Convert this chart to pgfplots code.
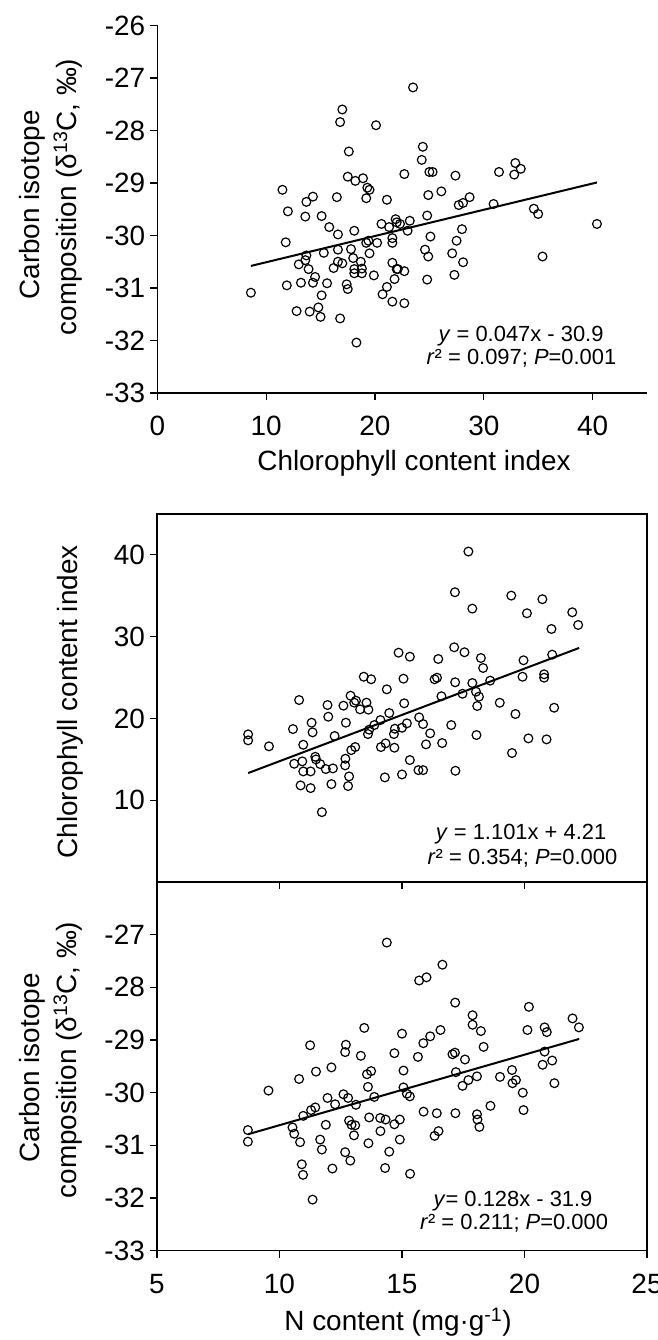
\documentclass[border=0pt]{standalone}
\usepackage{fontspec}
\setmainfont{Liberation Sans}
\usepackage{pgfplots}
\pgfplotsset{compat=1.18}

\pgfplotsset{
  myax/.style={
    scale only axis,
    clip=false,
    font=\fontsize{28}{33}\selectfont,
    tick label style={font=\fontsize{28}{33}\selectfont, inner sep=0pt},
    major tick length=7bp,
    tick style={line width=1.2bp, black},
    axis line style={line width=1.3bp, black},
  },
  pts/.style={only marks, mark=o, mark size=4.4bp, mark options={line width=1.2bp, black, fill=white}},
  reg/.style={black, line width=2bp, no marks},
}

\begin{document}
\begin{tikzpicture}
\useasboundingbox (0bp,0bp) rectangle (658bp,1340bp);

% ---------------- Panel 1 ----------------
\begin{axis}[myax, at={(157.3bp,947bp)}, anchor=south west, width=489.7bp, height=367.5bp,
  xmin=0, xmax=45, ymin=-33, ymax=-26,
  axis x line*=bottom, axis y line*=left,
  axis line style={-, line width=1.3bp, black},
  tick align=outside,
  xtick={0,10,20,30,40}, xticklabels={0,10,20,30,40},
  ytick={-33,-32,-31,-30,-29,-28,-27,-26},
  yticklabels={-33,-32,-31,-30,-29,-28,-27,-26},
  xticklabel shift=16bp, yticklabel shift=5bp]
\addplot[pts] table {
x y
17.0 -27.60
16.8 -27.84
20.1 -27.90
17.6 -28.40
17.5 -28.88
18.2 -28.96
18.9 -28.91
19.3 -29.09
19.5 -29.13
19.2 -29.29
21.1 -29.32
11.5 -29.13
14.3 -29.26
13.7 -29.36
16.5 -29.27
12.0 -29.54
13.6 -29.64
15.1 -29.63
15.8 -29.84
16.6 -29.98
18.1 -29.91
11.8 -30.13
20.6 -29.78
21.3 -29.84
21.9 -29.69
22.0 -29.75
21.6 -30.05
21.6 -30.14
19.4 -30.10
19.2 -30.14
20.2 -30.14
15.3 -30.33
16.6 -30.27
17.8 -30.26
13.7 -30.38
13.6 -30.47
13.0 -30.55
13.9 -30.64
14.5 -30.79
16.2 -30.62
16.6 -30.50
17.0 -30.53
18.0 -30.43
18.7 -30.50
18.1 -30.64
18.8 -30.63
18.1 -30.72
18.8 -30.72
19.5 -30.34
19.9 -30.76
21.6 -30.52
22.0 -30.64
21.8 -30.83
8.6 -31.09
11.9 -30.95
13.2 -30.90
14.3 -30.90
15.6 -30.91
15.1 -31.14
12.8 -31.44
14.0 -31.45
14.8 -31.37
15.0 -31.55
16.8 -31.58
18.3 -32.04
17.4 -30.93
17.5 -31.02
20.7 -31.12
21.1 -30.98
21.6 -31.26
23.5 -27.18
24.4 -28.31
24.3 -28.56
22.7 -28.83
25.0 -28.79
25.3 -28.79
27.4 -28.86
31.4 -28.79
32.9 -28.62
33.4 -28.73
32.8 -28.84
24.9 -29.23
26.1 -29.16
28.7 -29.27
28.1 -29.38
27.7 -29.42
30.9 -29.40
34.6 -29.49
35.0 -29.59
40.4 -29.78
35.4 -30.40
22.3 -29.78
23.2 -29.72
23.0 -29.91
24.8 -29.62
25.1 -30.02
28.0 -29.88
27.5 -30.10
24.6 -30.27
24.9 -30.40
27.1 -30.34
28.1 -30.51
22.1 -30.64
22.7 -30.68
24.8 -30.84
27.3 -30.75
22.7 -31.29
};
\addplot[reg] coordinates {(8.6,-30.58) (40.4,-28.99)};
\end{axis}

% ---------------- Panel 2 ----------------
\begin{axis}[myax, at={(157bp,458bp)}, anchor=south west, width=490bp, height=368bp,
  xmin=5, xmax=25, ymin=0, ymax=45,
  tick align=outside,
  xtick={10,15,20}, xticklabels={}, xtick pos=bottom,
  ytick={10,20,30,40}, yticklabels={10,20,30,40}, ytick pos=left,
  yticklabel shift=5bp]
\addplot[pts] table {
x y
14.86 28.04
13.44 25.10
13.74 24.79
14.38 23.56
10.80 22.25
11.96 21.64
12.61 21.56
12.90 22.78
13.05 21.93
13.12 22.17
13.55 21.93
13.29 21.11
13.63 21.07
14.48 20.66
8.72 18.05
8.72 17.32
9.57 16.59
10.55 18.70
11.31 19.48
11.35 18.30
11.99 20.21
12.71 19.48
12.25 17.85
10.97 16.78
10.60 14.46
10.93 14.75
11.46 15.31
11.49 14.99
11.66 14.42
11.89 13.81
12.18 13.89
10.97 13.52
11.27 13.52
10.86 11.81
11.27 11.48
12.12 11.97
11.73 8.54
12.69 15.07
12.68 14.26
12.93 16.13
13.09 16.50
12.84 12.91
12.80 11.73
13.61 18.09
13.66 18.62
13.87 19.19
14.12 19.80
14.67 18.09
14.71 18.74
14.14 16.50
14.33 16.95
14.69 16.42
14.30 12.79
15.00 13.15
15.09 21.85
15.00 18.86
15.20 19.40
15.70 20.13
15.86 19.31
16.15 18.18
17.01 19.19
15.98 16.83
16.64 16.99
15.32 14.91
15.67 13.68
15.86 13.68
17.18 13.60
18.04 17.97
18.07 21.52
18.99 21.92
19.63 20.54
21.21 21.31
20.16 17.56
20.90 17.44
19.49 15.77
17.71 40.41
17.16 35.43
19.46 35.02
20.73 34.58
17.87 33.43
20.10 32.86
21.95 32.98
22.19 31.43
21.10 30.94
15.32 27.55
16.48 27.27
17.13 28.70
17.55 28.09
18.22 27.39
18.31 26.17
19.96 27.11
21.13 27.80
15.06 24.86
16.33 24.79
16.43 24.98
17.17 24.42
17.87 24.33
18.60 24.62
19.92 25.10
20.80 25.40
20.80 24.98
16.61 22.71
17.47 23.02
18.02 23.27
18.14 22.66
};
\addplot[reg] coordinates {(8.72,13.32) (22.23,28.62)};
\end{axis}

% ---------------- Panel 3 ----------------
\begin{axis}[myax, at={(157bp,89.3bp)}, anchor=south west, width=490bp, height=368.7bp,
  xmin=5, xmax=25, ymin=-33, ymax=-26,
  tick align=outside,
  xtick={5,10,15,20,25}, xticklabels={5,10,15,20,25}, xtick pos=bottom,
  ytick={-33,-32,-31,-30,-29,-28,-27},
  yticklabels={-33,-32,-31,-30,-29,-28,-27}, ytick pos=left,
  xticklabel shift=16bp, yticklabel shift=5bp]
\addplot[pts] table {
x y
14.38 -27.15
13.46 -28.77
11.25 -29.10
12.71 -29.09
12.68 -29.23
13.32 -29.30
14.69 -29.25
11.49 -29.60
12.12 -29.52
13.57 -29.65
13.74 -29.59
16.65 -27.57
15.70 -27.87
16.00 -27.81
17.17 -28.29
17.88 -28.53
17.88 -28.71
18.22 -28.83
20.18 -28.37
20.12 -28.81
20.82 -28.76
20.91 -28.85
21.96 -28.59
22.22 -28.76
15.00 -28.88
16.57 -28.81
16.15 -28.93
15.87 -29.06
18.33 -29.13
15.65 -29.32
17.06 -29.27
17.16 -29.24
17.57 -29.37
15.06 -29.58
17.20 -29.61
20.82 -29.22
20.74 -29.47
21.13 -29.39
19.49 -29.57
10.80 -29.74
9.55 -29.96
13.61 -29.89
13.87 -30.08
12.61 -30.03
12.80 -30.10
11.96 -30.10
12.27 -30.22
13.12 -30.23
11.29 -30.33
11.46 -30.28
10.97 -30.44
13.66 -30.47
14.11 -30.48
14.33 -30.51
14.69 -30.60
12.84 -30.53
12.94 -30.61
13.09 -30.62
8.71 -30.71
8.71 -30.93
10.53 -30.66
10.60 -30.78
10.84 -30.94
11.89 -30.61
11.66 -30.89
11.73 -31.08
13.04 -30.81
14.12 -30.73
14.91 -30.51
14.91 -30.89
13.63 -30.96
14.48 -31.12
12.68 -31.13
12.89 -31.29
10.91 -31.36
10.96 -31.56
12.16 -31.44
14.31 -31.43
11.35 -32.03
17.47 -29.87
17.71 -29.76
18.06 -29.69
19.00 -29.70
19.51 -29.82
19.65 -29.76
21.22 -29.82
19.93 -30.00
19.96 -30.33
15.06 -29.90
15.20 -30.02
15.32 -30.07
15.88 -30.36
16.42 -30.39
17.18 -30.39
18.06 -30.41
18.08 -30.51
18.16 -30.65
18.61 -30.25
16.49 -30.73
16.33 -30.82
15.33 -31.54
};
\addplot[reg] coordinates {(8.71,-30.79) (22.23,-28.98)};
\end{axis}

% ---------------- Text ----------------
\begin{scope}[every node/.style={inner sep=0pt, font=\fontsize{28}{33}\selectfont}]
\node[anchor=base] at (414bp,869bp) {Chlorophyll content index};
\node[anchor=base] at (398bp,10bp) {N content (mg·g\textsuperscript{-1})};
\node[anchor=base, rotate=90] at (39bp,1135bp) {Carbon isotope};
\node[anchor=base, rotate=90] at (76bp,1143bp) {composition (δ\textsuperscript{13}C, ‰)};
\node[anchor=base, rotate=90] at (77bp,638bp) {Chlorophyll content index};
\node[anchor=base, rotate=90] at (39bp,272bp) {Carbon isotope};
\node[anchor=base, rotate=90] at (76bp,280bp) {composition (δ\textsuperscript{13}C, ‰)};
\end{scope}
\begin{scope}[every node/.style={inner sep=0pt, font=\fontsize{22}{26}\selectfont}]
\node[anchor=base] at (521bp,998.3bp) {\textit{y} = 0.047x - 30.9};
\node[anchor=base] at (521.5bp,975bp) {\textit{r}² = 0.097; \textit{P}=0.001};
\node[anchor=base] at (521bp,500bp) {\textit{y} = 1.101x + 4.21};
\node[anchor=base] at (522.5bp,475bp) {\textit{r}² = 0.354; \textit{P}=0.000};
\node[anchor=base] at (513bp,133.3bp) {\textit{y}= 0.128x - 31.9};
\node[anchor=base] at (514bp,110bp) {\textit{r}² = 0.211; \textit{P}=0.000};
\end{scope}
\end{tikzpicture}
\end{document}
